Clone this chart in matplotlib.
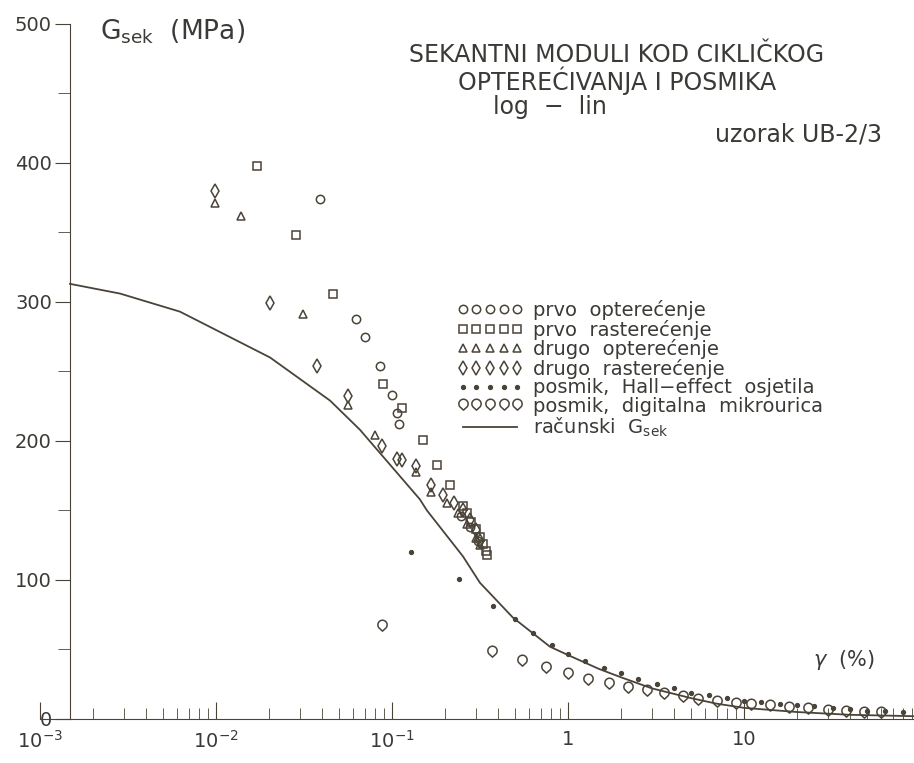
import matplotlib
matplotlib.use('Agg')
import matplotlib.pyplot as plt
import numpy as np
from matplotlib.path import Path
from matplotlib.lines import Line2D
from matplotlib.ticker import FixedLocator, NullFormatter

# prvo opterecenje (circles)
c1_x = [0.0389, 0.0624, 0.0698, 0.0855, 0.1000, 0.1069, 0.1094, 0.247, 0.277, 0.308]
c1_y = [374, 288, 275, 254, 233, 220, 212, 146, 138, 128]
# prvo rasterecenje (squares)
s1_x = [0.0172, 0.0284, 0.0463, 0.0889, 0.114, 0.150, 0.180, 0.213, 0.253, 0.268, 0.283, 0.299, 0.315, 0.330, 0.340, 0.346]
s1_y = [398, 348, 306, 241, 224, 201, 183, 168, 153, 148, 142, 137, 131, 126, 121, 118]
# drugo opterecenje (triangles)
t2_x = [0.0099, 0.0138, 0.0312, 0.0562, 0.0802, 0.137, 0.167, 0.206, 0.238, 0.268, 0.299, 0.315]
t2_y = [371, 362, 291, 226, 204, 178, 163, 155, 148, 140, 130, 125]
# drugo rasterecenje (diamonds)
d2_x = [0.0099, 0.0204, 0.0375, 0.0562, 0.0877, 0.1069, 0.114, 0.137, 0.167, 0.195, 0.225, 0.253, 0.277, 0.299, 0.315]
d2_y = [380, 299, 254, 232, 196, 187, 186, 182, 168, 161, 155, 150, 143, 136, 128]
# posmik, Hall-effect osjetila (dots)
h_x = [0.128, 0.240, 0.375, 0.500, 0.631, 0.809, 1.0, 1.25, 1.6, 2.0, 2.5, 3.2, 4.0, 5.0, 6.3, 8.0, 10, 12.5, 16, 20, 25, 32, 40, 50, 63, 80]
h_y = [120, 101, 81, 72, 62, 53, 47, 42, 37, 33, 29, 25, 22, 19, 17, 15, 13, 12, 11, 10, 9, 8, 7, 6, 5.5, 5]
# posmik, digitalna mikrourica (pins)
p_x = [0.0877, 0.369, 0.55, 0.75, 1.0, 1.3, 1.7, 2.2, 2.8, 3.5, 4.5, 5.5, 7, 9, 11, 14, 18, 23, 30, 38, 48, 60]
p_y = [67, 48, 42, 37, 32, 28, 25, 22, 20, 18, 16, 14, 12.5, 11, 10, 9, 8, 7, 6, 5, 4.5, 4]
# racunski G_sek
g_x = [0.00148, 0.00285, 0.00624, 0.0203, 0.0445, 0.0658, 0.144, 0.158, 0.253, 0.316, 0.486, 0.79, 1.0, 1.5, 2.0, 3.0, 5.0, 7.0, 10, 20, 40, 92]
g_y = [313, 306, 293, 260, 229, 208, 158, 150, 117, 98, 73, 52, 46, 36, 30, 22, 15, 11, 8, 5, 3, 2]

xtick_vals = [1e-3, 1e-2, 1e-1, 1, 10]
xtick_labels = ['10$^{-3}$', '10$^{-2}$', '10$^{-1}$', '1', '10']
ytick_vals = [0, 100, 200, 300, 400, 500]

ink = '#4a4338'
txt = '#3c3a36'

# teardrop / pin marker
th = np.linspace(np.radians(-40), np.radians(220), 30)
verts = [(np.cos(t), 0.35 + np.sin(t)) for t in th] + [(0, -1.0), (np.cos(th[0]), 0.35 + np.sin(th[0]))]
pin = Path(verts, [Path.MOVETO] + [Path.LINETO] * (len(verts) - 2) + [Path.CLOSEPOLY])

plt.rcParams['font.family'] = ['DejaVu Sans']
fig = plt.figure(figsize=(9.14, 7.63), dpi=100)
ax = fig.add_axes([40 / 914, 0.0577, 874 / 914, 0.911])
ax.set_xscale('log')
ax.set_xlim(1e-3, 92.5)
ax.set_ylim(0, 500)

mk = dict(ls='none', mfc='none', mec=ink, mew=1.1)
ax.plot(c1_x, c1_y, marker='o', ms=6, **mk)
ax.plot(s1_x, s1_y, marker='s', ms=5.5, **mk)
ax.plot(t2_x, t2_y, marker='^', ms=5.5, **mk)
ax.plot(d2_x, d2_y, marker='d', ms=7, **mk)
ax.plot(h_x, h_y, marker='o', ms=2.8, ls='none', color=ink)
ax.plot(p_x, p_y, marker=pin, ms=9, **mk)
ax.plot(g_x, g_y, color=ink, lw=1.3)

for s in ['top', 'right']:
    ax.spines[s].set_visible(False)
ax.spines['left'].set_position(('data', 1.48e-3))
ax.spines['left'].set_color(ink)
ax.spines['bottom'].set_color(ink)

ax.yaxis.set_major_locator(FixedLocator(ytick_vals))
ax.yaxis.set_minor_locator(FixedLocator([50, 150, 250, 350, 450]))
ax.tick_params(axis='y', which='major', direction='out', length=11, color=ink, labelsize=14, labelcolor=txt, pad=2)
ax.tick_params(axis='y', which='minor', direction='out', length=9, color=ink)

ax.xaxis.set_major_locator(FixedLocator(xtick_vals))
ax.set_xticklabels(xtick_labels)
minors = [m * 10.0 ** e for e in range(-3, 2) for m in range(2, 10)]
ax.xaxis.set_minor_locator(FixedLocator(minors))
ax.xaxis.set_minor_formatter(NullFormatter())
ax.tick_params(axis='x', which='major', direction='in', length=12, color=ink, labelsize=14, labelcolor=txt, pad=8)
ax.tick_params(axis='x', which='minor', direction='in', length=8, color=ink)

fig.text(100 / 914, 1 - 32 / 763, 'G$_{\\mathrm{sek}}$  (MPa)', fontsize=19, color=txt, va='center', ha='left')
fig.text(617 / 914, 1 - 55 / 763, 'SEKANTNI MODULI KOD CIKLIČKOG', fontsize=17, color=txt, va='center', ha='center')
fig.text(617 / 914, 1 - 81 / 763, 'OPTEREĆIVANJA I POSMIKA', fontsize=17, color=txt, va='center', ha='center')
fig.text(493 / 914, 1 - 107 / 763, 'log  −  lin', fontsize=17, color=txt, va='center', ha='left')
fig.text(0.965, 1 - 135 / 763, 'uzorak UB-2/3', fontsize=17, color=txt, va='center', ha='right')
ax.text(0.955, 0.085, '$\\gamma$  (%)', transform=ax.transAxes, fontsize=15, color=txt, ha='right', va='center')

handles = [
    Line2D([], [], marker='o', ms=6, **mk),
    Line2D([], [], marker='s', ms=5.5, **mk),
    Line2D([], [], marker='^', ms=5.5, **mk),
    Line2D([], [], marker='d', ms=7, **mk),
    Line2D([], [], marker='o', ms=2.8, ls='none', color=ink),
    Line2D([], [], marker=pin, ms=9, **mk),
    Line2D([], [], color=ink, lw=1.3),
]
labels = ['prvo  opterećenje', 'prvo  rasterećenje', 'drugo  opterećenje', 'drugo  rasterećenje',
          'posmik,  Hall−effect  osjetila', 'posmik,  digitalna  mikrourica', 'računski  G$_{\\mathrm{sek}}$']
fig.legend(handles, labels, numpoints=5, frameon=False, loc='upper left',
           bbox_to_anchor=(457 / 914, 1 - 300 / 763), fontsize=14, labelcolor=txt,
           handlelength=3.4, handletextpad=0.5, labelspacing=-0.02, borderpad=0, borderaxespad=0)

fig.savefig('out.png', dpi=100, facecolor='white')
